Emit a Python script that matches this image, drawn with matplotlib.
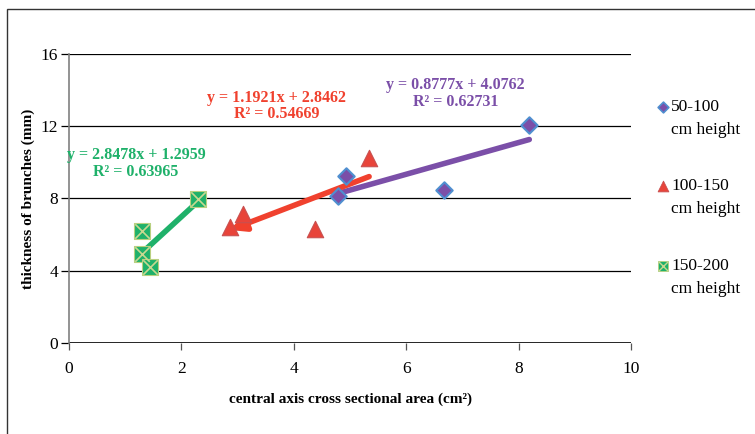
import numpy as np
import matplotlib
matplotlib.use("Agg")
import matplotlib.pyplot as plt
from matplotlib.patches import Rectangle

plt.rcParams['font.family'] = ['Liberation Serif', 'DejaVu Serif']

# 50-100 cm height
x_a = [4.79, 4.93, 6.67, 8.19]
y_a = [8.14, 9.25, 8.47, 12.07]
# 100-150 cm height
x_b = [2.86, 3.10, 4.38, 5.34]
y_b = [6.42, 7.14, 6.31, 10.24]
# 150-200 cm height
x_c = [1.30, 1.30, 1.44, 2.30]
y_c = [6.20, 4.93, 4.21, 7.97]

labels = ['50-100', '100-150', '150-200']
fits = [(0.8777, 4.0762, 0.62731), (1.1921, 2.8462, 0.54669), (2.8478, 1.2959, 0.63965)]

c_purple = '#7B4FA8'
c_red = '#F0412E'
c_green = '#1FB16A'

W, H = 755, 434
fig = plt.figure(figsize=(7.55, 4.34), dpi=100)
ax = fig.add_axes([0.0914, 0.2097, 0.7444, 0.6659])

# outer frame
fig.patches.append(Rectangle((0.009, -0.05), 1.1, 1.03, transform=fig.transFigure,
                             fill=False, edgecolor='#333333', linewidth=1.0))

ax.set_xlim(0, 10)
ax.set_ylim(0, 16)
ax.set_xticks([0, 2, 4, 6, 8, 10])
ax.set_yticks([0, 4, 8, 12, 16])
for yv in [4, 8, 12, 16]:
    ax.axhline(yv, color='black', linewidth=0.9, zorder=1)
ax.axhline(0, color='black', linewidth=1.2, zorder=1)

for s in ['top', 'right', 'bottom']:
    ax.spines[s].set_visible(False)
ax.spines['left'].set_color('#808080')
ax.spines['left'].set_linewidth(1.2)
ax.tick_params(axis='y', length=6, width=0.9, color='black', labelsize=12.5, pad=2)
ax.tick_params(axis='x', length=5, width=0.9, color='#555555', labelsize=12.5, pad=8)

# trend lines
m, b, r2 = fits[0]
xs = np.array([min(x_a), max(x_a)])
ax.plot(xs, m * xs + b, color=c_purple, linewidth=4, solid_capstyle='round', zorder=3)

m, b, r2 = fits[1]
xs = np.array([min(x_b), max(x_b)])
ys = m * xs + b
ax.annotate('', xy=(xs[0], ys[0]), xytext=(xs[1], ys[1]),
            arrowprops=dict(arrowstyle='-|>,head_length=0.9,head_width=0.45',
                            color=c_red, linewidth=4, shrinkA=0, shrinkB=0),
            zorder=3)

m, b, r2 = fits[2]
xs = np.array([min(x_c), max(x_c)])
ax.plot(xs, m * xs + b, color=c_green, linewidth=4, solid_capstyle='round', zorder=3)

# markers
ax.scatter(x_a, y_a, marker='D', s=70, facecolor=c_purple, edgecolor='#4F8FD0',
           linewidth=1.5, zorder=4)
ax.scatter(x_b, y_b, marker='^', s=140, facecolor='#E8443A', edgecolor='#C85050',
           linewidth=0.8, zorder=4)
ax.scatter(x_c, y_c, marker='s', s=130, facecolor=c_green, edgecolor='#B8D080',
           linewidth=0.8, zorder=4)
ax.scatter(x_c, y_c, marker='x', s=110, color='#C8D890', linewidth=1.2, zorder=5)

# equations
eq_pos = [(6.88, 13.82, c_purple), (3.70, 13.12, c_red), (1.19, 9.94, c_green)]
for (m, b, r2), (tx, ty, col) in zip(fits, eq_pos):
    ax.text(tx, ty, 'y = %.4fx + %.4f\nR² = %.5f' % (m, b, r2), color=col,
            fontsize=11.5, fontweight='bold', ha='center', va='center',
            multialignment='center', linespacing=1.05, zorder=6)

ax.set_xlabel('central axis cross sectional area (cm²)', fontsize=11, fontweight='bold', labelpad=11)
ax.set_ylabel('thickness of brunches (mm)', fontsize=11, fontweight='bold', labelpad=4)

# legend, drawn by hand so the marker sits on the first text line
leg_y = [107, 186, 266]
leg_style = [
    dict(marker='D', s=30, facecolor=c_purple, edgecolor='#4F8FD0', linewidth=1.2),
    dict(marker='^', s=60, facecolor='#E8443A', edgecolor='#C85050', linewidth=0.6),
    dict(marker='s', s=55, facecolor=c_green, edgecolor='#B8D080', linewidth=0.6),
]
for lab, py, st in zip(labels, leg_y, leg_style):
    fy = 1 - py / H
    fig.add_artist(plt.Line2D([], []))
    ax.scatter([663 / W], [fy], transform=fig.transFigure, clip_on=False, zorder=6, **st)
    if st['marker'] == 's':
        ax.scatter([663 / W], [fy], transform=fig.transFigure, clip_on=False, zorder=7,
                   marker='x', s=45, color='#C8D890', linewidth=1.0)
    fig.text(671 / W, fy, lab, fontsize=12.5, ha='left', va='center')
    fig.text(671 / W, 1 - (py + 23) / H, 'cm height', fontsize=12.5, ha='left', va='center')

fig.savefig('out.png', dpi=100)
